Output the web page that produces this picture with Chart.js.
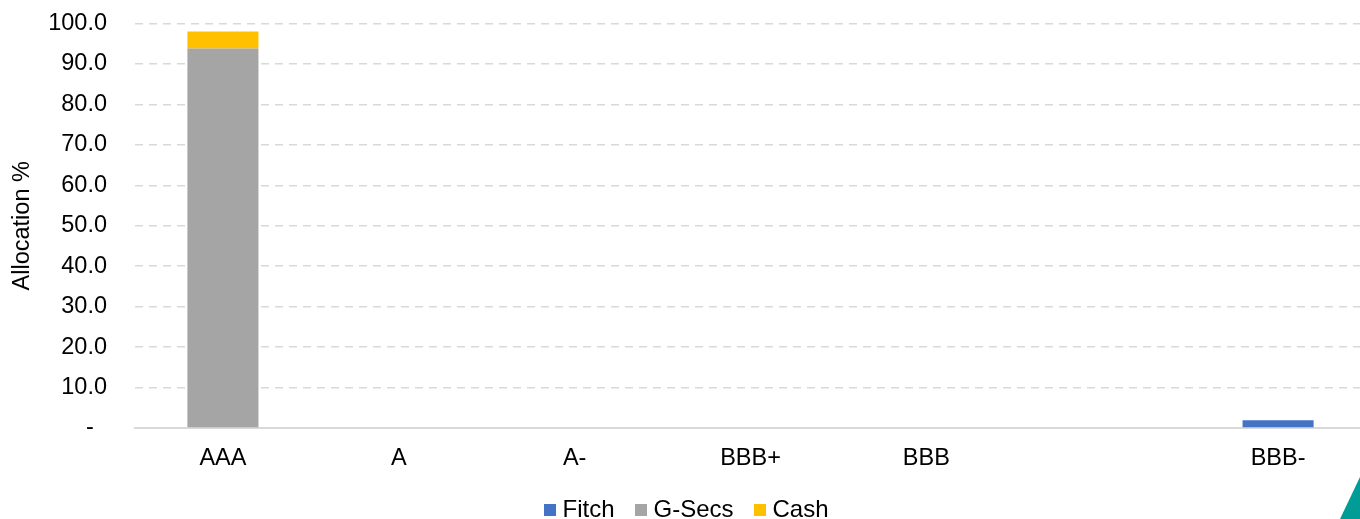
<!DOCTYPE html>
<html>
<head>
<meta charset="utf-8">
<script src="https://cdn.jsdelivr.net/npm/chart.js@4.4.1/dist/chart.umd.min.js"></script>
<style>
  html, body { margin: 0; padding: 0; background: #fff; overflow: hidden; }
  #wrap { position: relative; width: 1360px; height: 519px; overflow: hidden; }
  #logo { position: absolute; left: 1340px; top: 477px; width: 20px; height: 42px;
          background: #009c95; clip-path: polygon(0 100%, 100% 0, 100% 100%); }
</style>
</head>
<body>
<div id="wrap"><canvas id="c" width="1366" height="532"></canvas><div id="logo"></div></div>
<script>
const categories = ["AAA", "A", "A-", "BBB+", "BBB", "", "BBB-"];
const fitch  = [0, 0, 0, 0, 0, 0, 1.9];
const gsecs  = [93.8, 0, 0, 0, 0, 0, 0];
const cash   = [4.2, 0, 0, 0, 0, 0, 0];
const yTicks = [0, 10, 20, 30, 40, 50, 60, 70, 80, 90, 100];

const FONT = "'Liberation Sans', Arial, sans-serif";
const FS = 23.5;

function swatch(color) {
  const c = document.createElement('canvas');
  c.width = 12; c.height = 12;
  const g = c.getContext('2d');
  g.fillStyle = color; g.fillRect(0, 0, 12, 12);
  return c;
}

new Chart(document.getElementById('c'), {
  type: 'bar',
  data: {
    labels: categories,
    datasets: [
      { label: 'Fitch',  data: fitch, backgroundColor: '#4472c4', pointStyle: swatch('#4472c4') },
      { label: 'G-Secs', data: gsecs, backgroundColor: '#a5a5a5', pointStyle: swatch('#a5a5a5') },
      { label: 'Cash',   data: cash,  backgroundColor: '#ffc000', pointStyle: swatch('#ffc000') }
    ]
  },
  options: {
    responsive: false,
    animation: false,
    events: [],
    datasets: { bar: { barPercentage: 0.404, categoryPercentage: 1, borderWidth: 0 } },
    layout: { padding: { top: 23.5, right: 0, left: 12, bottom: 0 } },
    plugins: {
      tooltip: { enabled: false },
      legend: {
        position: 'bottom',
        labels: {
          font: { family: FONT, size: 24 },
          color: '#000',
          usePointStyle: true, pointStyleWidth: 1, boxHeight: 12,
          padding: 26
        }
      }
    },
    scales: {
      x: {
        stacked: true,
        afterFit: (s) => { s.height = 44; },
        grid: { display: false, drawTicks: false },
        border: { display: true, color: '#d9d9d9', width: 2 },
        ticks: { font: { family: FONT, size: FS }, color: '#000', padding: 16, maxRotation: 0, autoSkip: false }
      },
      y: {
        stacked: true,
        min: 0, max: 100,
        afterBuildTicks: (s) => { s.ticks = yTicks.map(v => ({ value: v })); },
        afterFit: (s) => { s.width = 123; s.paddingTop = 0; s.paddingBottom = 0; },
        grid: { color: '#d9d9d9', lineWidth: 1.5, drawTicks: false },
        border: { display: false, dash: [8, 6] },
        ticks: {
          font: { family: FONT, size: FS }, color: '#000', padding: 28,
          callback: (v) => v === 0 ? '-  ' : Number(v).toFixed(1)
        },
        title: { display: true, text: 'Allocation %', font: { family: FONT, size: FS }, color: '#000', padding: { top: -4, bottom: 0 } }
      }
    }
  }
});
</script>
</body>
</html>
